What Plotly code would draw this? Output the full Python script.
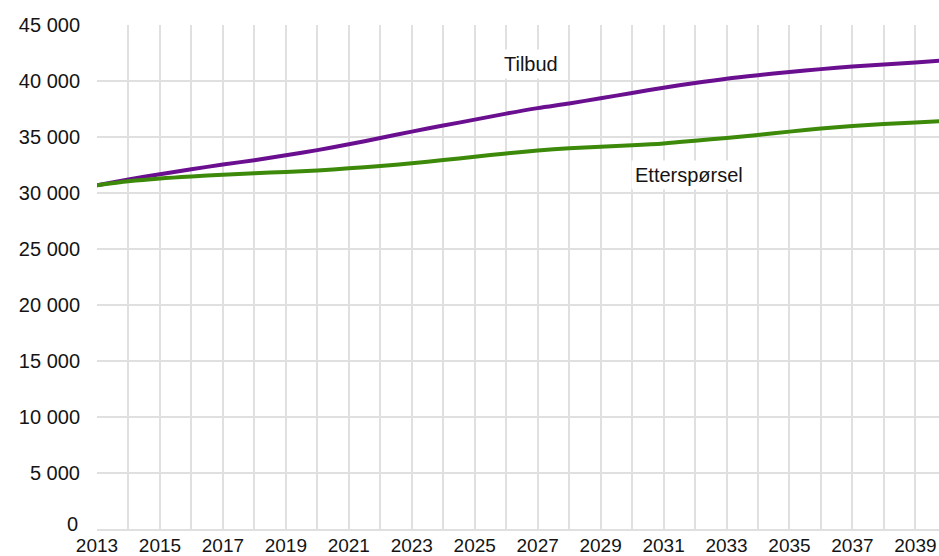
import plotly.graph_objects as go

years = list(range(2013, 2041))
tilbud = [30700, 31200, 31680, 32120, 32540, 32930, 33370, 33830, 34350, 34910,
          35480, 36020, 36550, 37090, 37580, 38000, 38460, 38930, 39400, 39830,
          40210, 40520, 40800, 41060, 41290, 41480, 41660, 41850]
etterspoersel = [30700, 31050, 31300, 31480, 31630, 31760, 31880, 32010, 32200, 32410,
                 32660, 32940, 33240, 33530, 33790, 33990, 34140, 34260, 34420, 34660,
                 34920, 35180, 35480, 35750, 35980, 36170, 36300, 36440]
x_tick_years = list(range(2013, 2041))
x_tick_text = [str(y) if (y - 2013) % 2 == 0 else "" for y in x_tick_years]
y_ticks = list(range(0, 45001, 5000))
y_tick_text = ["" if v == 0 else f"{v:,}".replace(",", " ") for v in y_ticks]

font_family = "Liberation Sans, Arial, sans-serif"
text_color = "#141414"
grid_color = "#e0e0e0"

fig = go.Figure()
fig.add_trace(go.Scatter(x=years, y=tilbud, mode="lines", name="Tilbud",
                         line=dict(color="#6a0f8f", width=4, shape="spline", smoothing=0.8)))
fig.add_trace(go.Scatter(x=years, y=etterspoersel, mode="lines", name="Etterspørsel",
                         line=dict(color="#3d8a0b", width=4, shape="spline", smoothing=0.8)))

fig.add_annotation(x=2026.78, y=41500, text="Tilbud", showarrow=False,
                   font=dict(size=20, color=text_color, family=font_family),
                   bgcolor="white", borderpad=3)
fig.add_annotation(x=2031.8, y=31600, text="Etterspørsel", showarrow=False,
                   font=dict(size=20, color=text_color, family=font_family),
                   bgcolor="white", borderpad=3)
# zero label of the y axis, raised slightly above the axis as in the original
fig.add_annotation(xref="paper", x=0, y=y_ticks[0], text=str(y_ticks[0]), showarrow=False,
                   xanchor="right", yanchor="bottom", xshift=-18, yshift=-7, borderpad=0,
                   font=dict(size=20, color=text_color, family=font_family))

fig.update_layout(
    width=939, height=556,
    margin=dict(l=97, r=0, t=25, b=27, autoexpand=False),
    paper_bgcolor="white", plot_bgcolor="white",
    showlegend=False,
    font=dict(family=font_family, size=20, color=text_color),
)
fig.update_xaxes(range=[2013, 2039.75], tickvals=x_tick_years, ticktext=x_tick_text,
                 showgrid=True, gridcolor=grid_color, gridwidth=2,
                 showline=True, linecolor=grid_color, linewidth=2,
                 zeroline=False, ticks="", automargin=False, ticklabelstandoff=-2,
                 tickfont=dict(size=19, color=text_color))
fig.update_yaxes(range=[0, 45000], tickvals=y_ticks, ticktext=y_tick_text,
                 showgrid=True, gridcolor=grid_color, gridwidth=2,
                 zeroline=False, ticks="", ticklabelstandoff=16, automargin=False,
                 tickfont=dict(size=20, color=text_color))

fig.write_html("out.html", config={"displayModeBar": False},
               post_script="document.body.style.margin='0';document.body.style.overflow='hidden';")
